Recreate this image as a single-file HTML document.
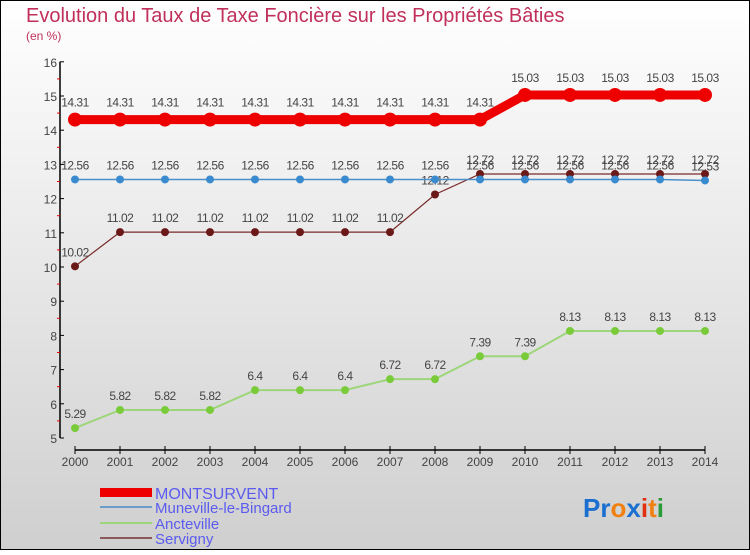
<!DOCTYPE html>
<html><head><meta charset="utf-8"><style>
body{margin:0}
#c{width:750px;height:550px;position:relative;font-family:"Liberation Sans",sans-serif}
svg text{font-family:"Liberation Sans",sans-serif}
</style></head><body>
<div id="c">
<svg id="s" width="750" height="550" xmlns="http://www.w3.org/2000/svg">
<defs><linearGradient id="bg" x1="0" y1="0" x2="0" y2="1"><stop offset="0" stop-color="#ffffff"/><stop offset="1" stop-color="#cfcfcf"/></linearGradient></defs>
<rect x="0.5" y="0.5" width="749" height="549" fill="url(#bg)" stroke="#000"/>
<text x="26" y="22" font-size="20" fill="#c0305a">Evolution du Taux de Taxe Foncière sur les Propriétés Bâties</text>
<text x="26" y="40" font-size="12" fill="#c0305a">(en %)</text>
<g id="axes"></g><g id="series"></g>
<g>
<rect x="100" y="488" width="52" height="9" fill="#e00"/>
<text x="155" y="499" font-size="16" fill="#5b5bf0">MONTSURVENT</text>
<rect x="100" y="506" width="52" height="2" fill="#6a9ec8"/>
<text x="155" y="513" font-size="15" fill="#5b5bf0">Muneville-le-Bingard</text>
<rect x="100" y="522" width="52" height="2" fill="#9dd67a"/>
<text x="155" y="529" font-size="15" fill="#5b5bf0">Ancteville</text>
<rect x="100" y="537" width="52" height="2" fill="#8a5a5a"/>
<text x="155" y="544" font-size="15" fill="#5b5bf0">Servigny</text>
</g>
<g font-size="26" font-weight="bold">
<text x="583" y="517"><tspan fill="#1a6fd0">Pr</tspan><tspan fill="#f08010">o</tspan><tspan fill="#1a6fd0">x</tspan><tspan fill="#e03010">i</tspan><tspan fill="#f08010">t</tspan><tspan fill="#2a9a3a">i</tspan></text>
</g>
</svg></div>
<script>
const years=[2000,2001,2002,2003,2004,2005,2006,2007,2008,2009,2010,2011,2012,2013,2014];
const montsurvent=[14.31,14.31,14.31,14.31,14.31,14.31,14.31,14.31,14.31,14.31,15.03,15.03,15.03,15.03,15.03];
const muneville=[12.56,12.56,12.56,12.56,12.56,12.56,12.56,12.56,12.56,12.56,12.56,12.56,12.56,12.56,12.53];
const ancteville=[5.29,5.82,5.82,5.82,6.4,6.4,6.4,6.72,6.72,7.39,7.39,8.13,8.13,8.13,8.13];
const servigny=[10.02,11.02,11.02,11.02,11.02,11.02,11.02,11.02,12.12,12.72,12.72,12.72,12.72,12.72,12.72];
const yTicks=[5,6,7,8,9,10,11,12,13,14,15,16];
const NS="http://www.w3.org/2000/svg";
function X(i){return 75+i*45;}
function Y(v){return 438-(v-5)*34.2;}
function mk(t,a,p){const e=document.createElementNS(NS,t);for(const k in a)e.setAttribute(k,a[k]);p.appendChild(e);return e;}
const ax=document.getElementById('axes');
let l=mk('line',{x1:60,y1:Y(16),x2:60,y2:Y(5),stroke:'#000','stroke-width':1.5},ax);


l=mk('line',{x1:75,y1:450,x2:705,y2:450,stroke:'#000','stroke-width':1.5},ax);


yTicks.forEach(v=>{
 mk('line',{x1:60,y1:Y(v),x2:64,y2:Y(v),stroke:'#000'},ax);
 if(v<16)mk('line',{x1:57,y1:Y(v+0.5),x2:60,y2:Y(v+0.5),stroke:'#e00'},ax);
 const t=mk('text',{x:57,y:Y(v)+5,'text-anchor':'end','font-size':12,fill:'#444'},ax);
 t.textContent=v;
 
 
});
years.forEach((yr,i)=>{
 mk('line',{x1:X(i),y1:446,x2:X(i),y2:454,stroke:'#000'},ax);
 const t=mk('text',{x:X(i),y:466,'text-anchor':'middle','font-size':12,fill:'#444'},ax);
 t.textContent=yr;
 
 
});
const sg=document.getElementById('series');
function series(vals,name,color,w,r,dot){
 const g=mk('g',{},sg);
 
 
 const p=mk('polyline',{points:vals.map((v,i)=>X(i)+','+Y(v)).join(' '),fill:'none',stroke:color,'stroke-width':w},g);
 
 
 vals.forEach((v,i)=>{
  const c=mk('circle',{cx:X(i),cy:Y(v),r:r,fill:dot},g);
  
  
  const t=mk('text',{x:X(i),y:Y(v)-r-6,'text-anchor':'middle','font-size':12,fill:'#444','letter-spacing':'-0.5'},g);
  t.textContent=v;
  
  
 });
}
series(ancteville,'ancteville','#9dd67a',2,4,'#7acb3a');
series(servigny,'servigny','#7a2a2a',1.2,4,'#6a1818');
series(muneville,'muneville','#4a90c8',1.5,4,'#3a8ad0');
series(montsurvent,'montsurvent','#e00',9,7,'#e00');
</script>
</body></html>
